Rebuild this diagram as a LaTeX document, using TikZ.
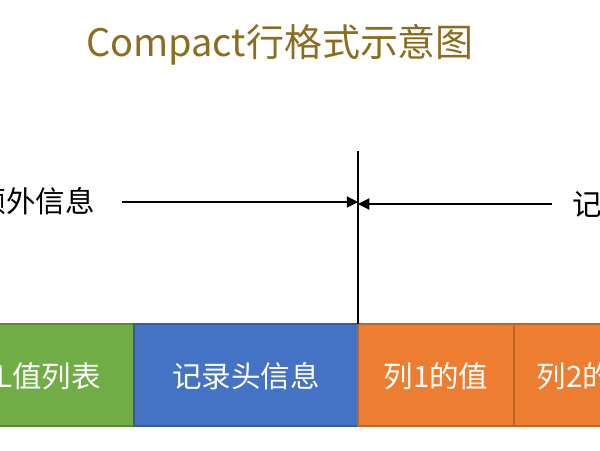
\documentclass[tikz,border=0pt]{standalone}
\usepackage{fontspec}
\setmainfont{Noto Sans CJK SC}
\usetikzlibrary{arrows.meta}
\definecolor{titlegold}{HTML}{8C6D1F}
\definecolor{boxgreen}{HTML}{70AD47}
\definecolor{boxblue}{HTML}{4472C4}
\definecolor{boxorange}{HTML}{ED7D31}
\tikzset{
	field/.style={draw=#1!80!black,fill=#1,thick},
	fieldtext/.style={text=white,font=\fontsize{21}{24}\selectfont},
	parttext/.style={font=\fontsize{21}{24}\selectfont},
	pointer/.style={-{Triangle[length=8pt,width=8pt]},thick},
}
\begin{document}
\begin{tikzpicture}[x=0.025cm,y=-0.025cm]
		\useasboundingbox (0,0) rectangle (600,450) ;
		\clip (0,0) rectangle (600,450) ;
		\node[text=titlegold,font=\fontsize{27}{30}\selectfont] (title) at (280,45) {Compact行格式示意图} ;
		% fields of the record
		\draw[field=boxgreen] (-150,324) rectangle (134,426) ;
		\draw[field=boxblue] (134,324) rectangle (358,426) ;
		\draw[field=boxorange] (358,324) rectangle (514,426) ;
		\draw[field=boxorange] (514,324) rectangle (700,426) ;
		\node[fieldtext,anchor=east] (nul) at (106,376) {NULL值列表} ;
		\node[fieldtext] (hdr) at (246,376) {记录头信息} ;
		\node[fieldtext] (col1) at (436,376) {列1的值} ;
		\node[fieldtext,anchor=west] (col2) at (532,376) {列2的值} ;
		% the two parts
		\coordinate (top) at (358,151) ;
		\coordinate (mid) at (358,202) ;
		\coordinate (bot) at (358,324) ;
		\draw[thick] (top)--(bot) ;
		\node[parttext,anchor=east] (extra) at (100,201) {记录的额外信息} ;
		\node[parttext,anchor=west] (real) at (568,204) {记录的真实数据} ;
		\coordinate (la) at (122,202) ;
		\coordinate (ra) at (552,204) ;
		\draw[pointer] (la)--(mid) ;
		\draw[pointer] (ra)--(mid|-ra) ;
	\end{tikzpicture}
\end{document}
